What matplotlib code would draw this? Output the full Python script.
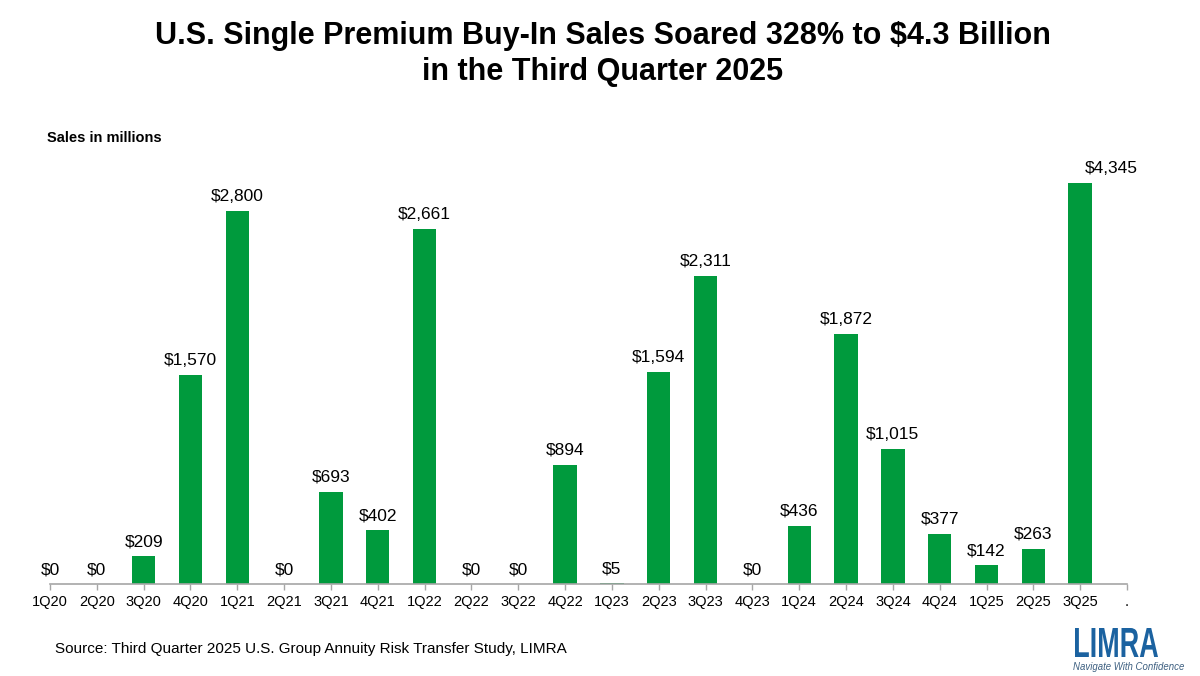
import matplotlib
matplotlib.use("Agg")
import matplotlib.pyplot as plt
from matplotlib.textpath import TextPath
from matplotlib.patches import PathPatch
from matplotlib.font_manager import FontProperties
from matplotlib.transforms import Affine2D, IdentityTransform

plt.rcParams['font.family'] = ['Liberation Sans', 'DejaVu Sans']

quarters = ["1Q20", "2Q20", "3Q20", "4Q20", "1Q21", "2Q21", "3Q21", "4Q21",
            "1Q22", "2Q22", "3Q22", "4Q22", "1Q23", "2Q23", "3Q23", "4Q23",
            "1Q24", "2Q24", "3Q24", "4Q24", "1Q25", "2Q25", "3Q25"]
sales = [0, 0, 209, 1570, 2800, 0, 693, 402, 2661, 0, 0, 894, 5, 1594, 2311, 0,
         436, 1872, 1015, 377, 142, 263, 4345]
tick_labels = quarters + ["."]

title_lines = ["U.S. Single Premium Buy-In Sales Soared 328% to $4.3 Billion",
               "in the Third Quarter 2025"]
unit_label = "Sales in millions"
source = "Source: Third Quarter 2025 U.S. Group Annuity Risk Transfer Study, LIMRA"

GREEN = "#009a3d"
AXIS = "#a6a6a6"
W, H = 1200, 676

fig = plt.figure(figsize=(W / 100, H / 100), dpi=100)
ax = fig.add_axes([50 / W, 1 - 584 / H, (1127 - 50) / W, (584 - 183) / H])

x = list(range(len(quarters)))
ax.bar(x, sales, width=0.5, color=GREEN, zorder=2)
ymax = 3008
ax.set_ylim(0, ymax)
ax.set_xlim(0, len(tick_labels) - 1)

for xi, v in zip(x, sales):
    if v > ymax:
        ax.annotate(f"${v:,}", (xi, ymax), xytext=(31, 7), textcoords="offset pixels",
                    ha="center", va="bottom", fontsize=12.5, color="black",
                    annotation_clip=False)
    else:
        ax.annotate(f"${v:,}", (xi, v), xytext=(0, 7), textcoords="offset pixels",
                    ha="center", va="bottom", fontsize=12.5, color="black",
                    annotation_clip=False)

ax.set_xticks(range(len(tick_labels)))
ax.set_xticklabels(tick_labels, fontsize=10.5)
ax.set_yticks([])
for s in ["top", "right", "left"]:
    ax.spines[s].set_visible(False)
ax.spines["bottom"].set_color(AXIS)
ax.spines["bottom"].set_linewidth(1.2)
ax.tick_params(axis="x", length=4, width=1, color=AXIS, pad=4)

for i, line in enumerate(title_lines):
    fig.text(603 / W, 1 - (44 + 36 * i) / H, line, ha="center", va="baseline",
             fontsize=22, fontweight="bold")
fig.text(47 / W, 1 - 138 / H, unit_label, ha="left", va="center", fontsize=10.5,
         fontweight="bold")
fig.text(55 / W, 1 - 649 / H, source, ha="left", va="center", fontsize=11)

# LIMRA logo
tp = TextPath((0, 0), "LIMRA", size=100, prop=FontProperties(family="Liberation Sans", weight="bold"))
ext = tp.get_extents()
tx0, tx1, ty0, ty1 = 1075, 1158, H - 657, H - 628
sx = (tx1 - tx0) / ext.width
sy = (ty1 - ty0) / ext.height
tr = Affine2D().translate(-ext.x0, -ext.y0).scale(sx, sy).translate(tx0, ty0)
fig.patches.append(PathPatch(tr.transform_path(tp), facecolor="#1b62a0", edgecolor="none",
                             transform=IdentityTransform(), figure=fig))
fig.text(1129 / W, 1 - 667 / H, "Navigate With Confidence", ha="center", va="center",
         fontsize=6.9, style="italic", color="#3d5f80")

fig.savefig("out.png", dpi=100)
